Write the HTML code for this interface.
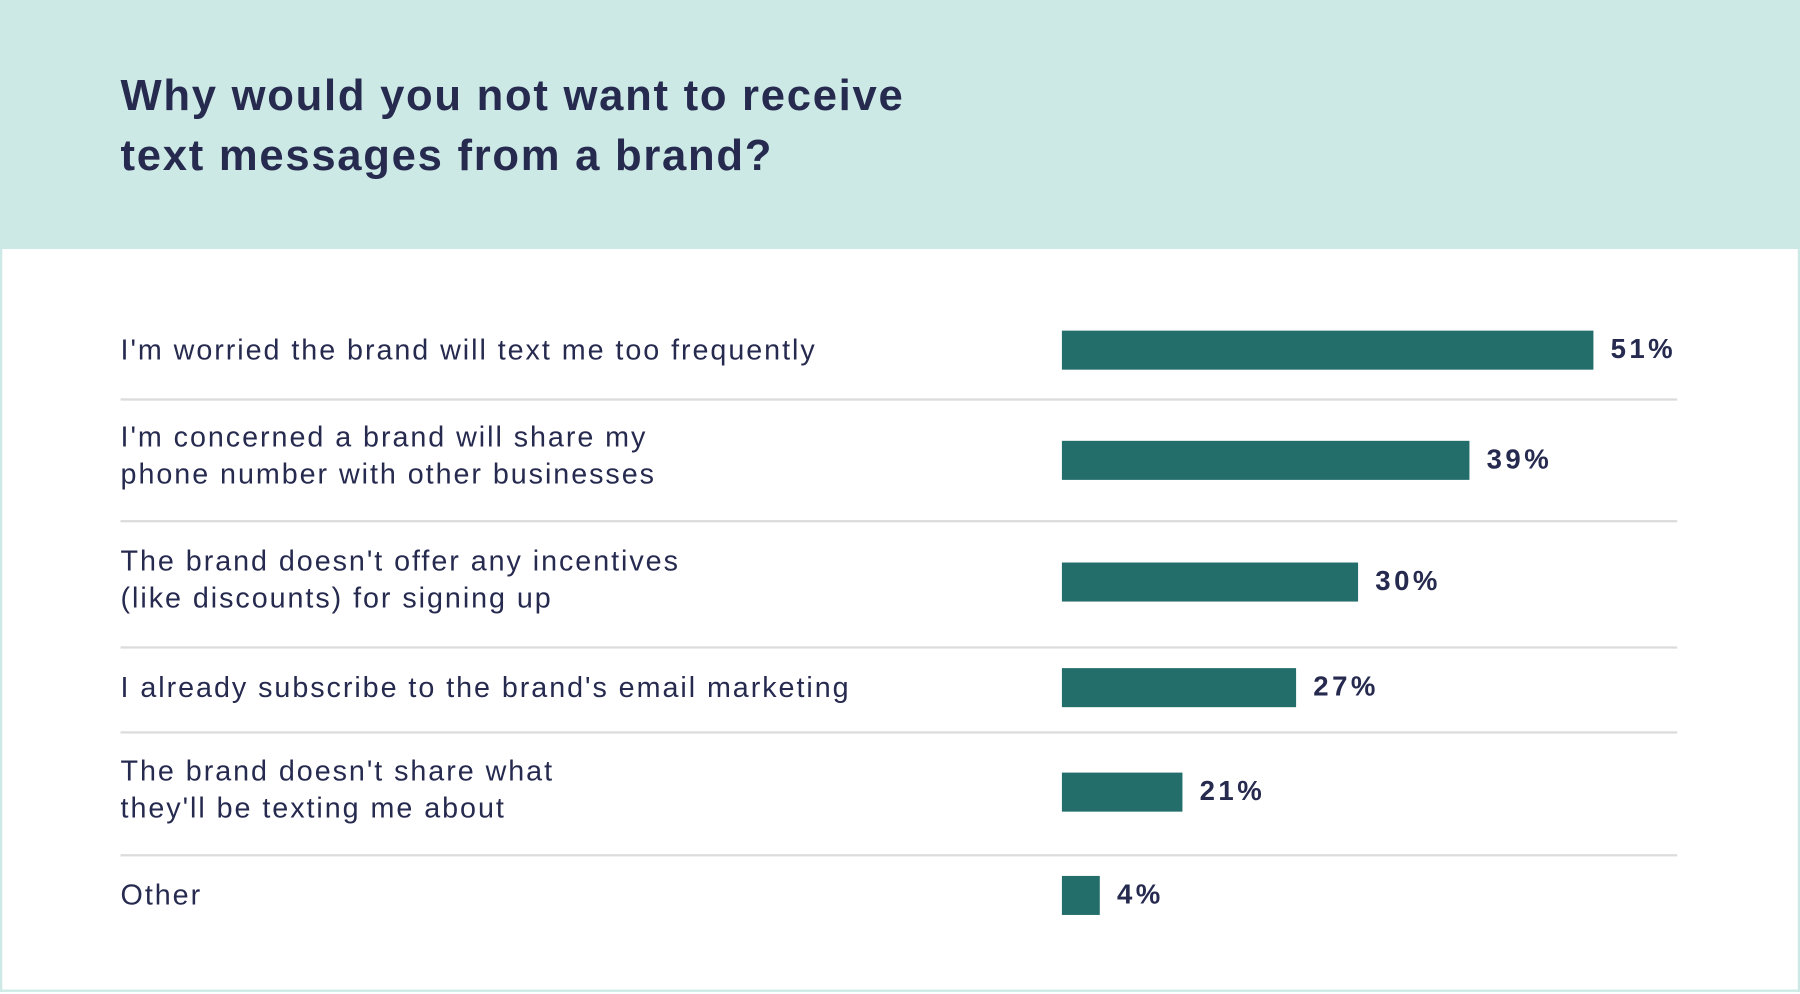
<!DOCTYPE html>
<html><head><meta charset="utf-8"><style>
html,body{margin:0;padding:0;background:#fff;}
body{width:1800px;height:994px;overflow:hidden;}
#w{position:absolute;left:0;top:0;width:1568px;height:866px;transform:scale(1.148);transform-origin:0 0;font-family:"Liberation Sans",sans-serif;color:#262a4f;}
.hdr{position:absolute;left:0;top:0;width:1568px;height:217px;background:#cce9e5;}
.frame{position:absolute;left:0;top:217px;width:1564px;height:645px;border:2px solid #cce9e5;border-top:none;background:#fff;}
.t{position:absolute;left:105px;top:58px;font-size:38px;font-weight:bold;line-height:52px;letter-spacing:1.5px;}
.l{position:absolute;left:105px;font-size:25px;line-height:32px;letter-spacing:1.7px;}
.b{position:absolute;left:925px;height:34px;background:#236d6b;}
.v{position:absolute;font-size:24px;font-weight:bold;line-height:34px;letter-spacing:3px;}
.s{position:absolute;left:105px;width:1356px;height:2px;background:#dcdcdc;}
</style></head><body><div id="w">
<div class="hdr"></div><div class="frame"></div>
<div class="t">Why would you not want to receive<br>text messages from a brand?</div>

<div class="l" style="top:289px">I'm worried the brand will text me too frequently</div>
<div class="b" style="top:288px;width:463px"></div><div class="v" style="top:288px;left:1403px">51%</div>
<div class="s" style="top:347px"></div>

<div class="l" style="top:365px">I'm concerned a brand will share my<br>phone number with other businesses</div>
<div class="b" style="top:384px;width:355px"></div><div class="v" style="top:384px;left:1295px">39%</div>
<div class="s" style="top:453px"></div>

<div class="l" style="top:473px">The brand doesn't offer any incentives<br>(like discounts) for signing up</div>
<div class="b" style="top:490px;width:258px"></div><div class="v" style="top:490px;left:1198px">30%</div>
<div class="s" style="top:563px"></div>

<div class="l" style="top:583px">I already subscribe to the brand's email marketing</div>
<div class="b" style="top:582px;width:204px"></div><div class="v" style="top:582px;left:1144px">27%</div>
<div class="s" style="top:637px"></div>

<div class="l" style="top:656px">The brand doesn't share what<br>they'll be texting me about</div>
<div class="b" style="top:673px;width:105px"></div><div class="v" style="top:673px;left:1045px">21%</div>
<div class="s" style="top:744px"></div>

<div class="l" style="top:764px">Other</div>
<div class="b" style="top:763px;width:33px"></div><div class="v" style="top:763px;left:973px">4%</div>
</div></body></html>
